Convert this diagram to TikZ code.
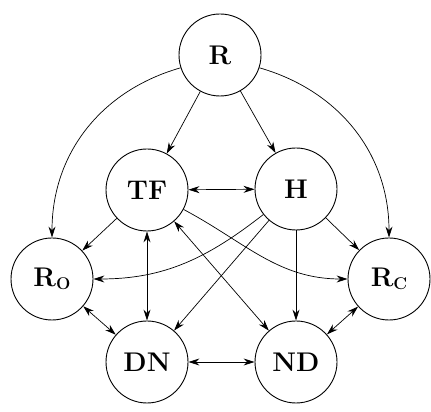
\documentclass[tikz,border=0pt]{standalone}
\usepackage{fontspec}
\usetikzlibrary{arrows.meta}
\newcommand{\statefont}{\fontsize{27}{30}\selectfont\bfseries}
\newcommand{\lowidx}[1]{\raisebox{-0.3ex}{\fontsize{17}{20}\selectfont #1}}
\begin{document}
\begin{tikzpicture}[x=1pt,y=1pt,
  state/.style={circle,draw,line width=0.9pt,minimum size=82pt,inner sep=0pt,
    font=\statefont},
  link/.style={line width=0.7pt,-{Stealth[length=11pt,width=7pt]}},
  both/.style={line width=0.7pt,{Stealth[length=11pt,width=7pt]}-{Stealth[length=11pt,width=7pt]}}]
\useasboundingbox (0,0) rectangle (431,412);
% states
\node[state] (R)  at (220,357) {R};
\node[state] (TF) at (147,222) {TF};
\node[state] (H)  at (296,223) {H};
\node[state] (RO) at (52,133)  {R\lowidx{O}};
\node[state] (RC) at (389,133) {R\lowidx{C}};
\node[state] (DN) at (147,50)  {DN};
\node[state] (ND) at (296,50)  {ND};
% transitions from R
\draw[link] (R) -- (TF);
\draw[link] (R) -- (H);
\draw[link] (R.198) to[out=196,in=90] (RO.90);
\draw[link] (R.-18) to[out=-16,in=90] (RC.90);
% transitions between the inner states
\draw[both] (TF) -- (H);
\draw[link] (TF) -- (RO);
\draw[both] (TF.-90) -- (DN.90);
\draw[both] (TF) -- (ND);
\draw[link] (TF.-28) to[out=-28,in=180] (RC.180);
\draw[link] (H.218) to[out=218,in=0] (RO.0);
\draw[link] (H) -- (DN);
\draw[link] (H.-90) -- (ND.90);
\draw[link] (H) -- (RC);
% bottom row
\draw[both] (RO) -- (DN);
\draw[both] (RC) -- (ND);
\draw[both] (DN) -- (ND);
\end{tikzpicture}
\end{document}
